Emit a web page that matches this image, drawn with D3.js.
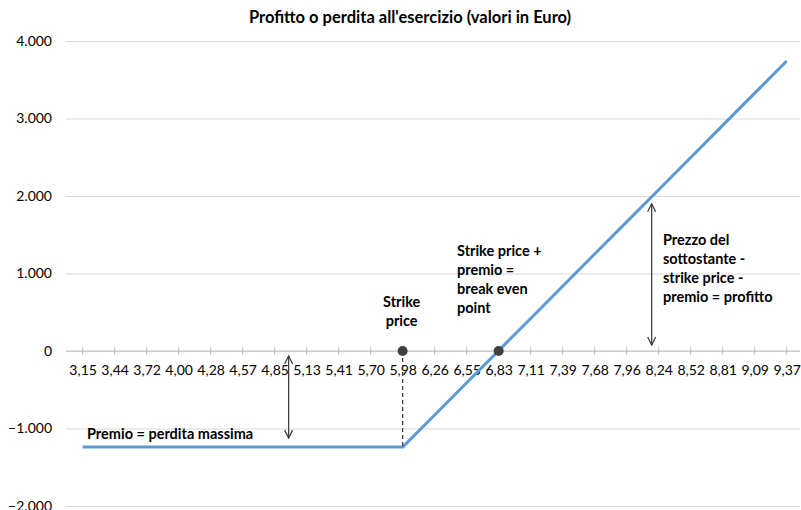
<!DOCTYPE html>
<html><head><meta charset="utf-8">
<script src="https://cdn.jsdelivr.net/npm/d3@7"></script>
<style>
body{margin:0;background:#fff;}
svg{display:block;font-family:Lato,"Open Sans",sans-serif;}
</style></head>
<body><svg id="chart" width="801" height="510"></svg>
<script>
// ---- data ----
const categories = ["3,15","3,44","3,72","4,00","4,28","4,57","4,85","5,13","5,41","5,70","5,98","6,26","6,55","6,83","7,11","7,39","7,68","7,96","8,24","8,52","8,81","9,09","9,37"];
const profit = [-1240,-1240,-1240,-1240,-1240,-1240,-1240,-1240,-1240,-1240,-1240,-825,-410,5,420,836,1251,1666,2081,2496,2912,3327,3742];
const yTicks = [-2000,-1000,0,1000,2000,3000,4000];
const title = "Profitto o perdita all'esercizio (valori in Euro)";
const strikeLabel = "5,98";
const breakEvenLabel = "6,83";
const premiumArrowAt = "5,13";
const profitArrowAt = "8,24";
const premium = 1240;

const svg = d3.select("#chart");
const x = d3.scalePoint().domain(categories).range([82.6, 786.7]);
const y = d3.scaleLinear().domain([-2000, 4000]).range([506, 41]);
const loc = d3.formatLocale({decimal: ",", thousands: ".", grouping: [3], currency: ["€",""]});
const fmt = loc.format(",d");

// title
svg.append("text").attr("x", 410).attr("y", 23).attr("text-anchor", "middle")
  .attr("font-size", 16.5).attr("font-weight", "bold").attr("fill", "#000").text(title);

// gridlines
const yAxis = d3.axisLeft(y).tickValues(yTicks).tickSize(-(800 - 66)).tickFormat(fmt).tickPadding(14);
const gy = svg.append("g").attr("transform", "translate(66,0)").call(yAxis);
gy.select(".domain").remove();
gy.selectAll(".tick line").attr("stroke", "#d9d9d9").attr("stroke-width", 1);
gy.selectAll(".tick text").attr("font-size", 14).attr("fill", "#000").attr("font-family", "Lato,sans-serif");

// x axis at zero
const gx = svg.append("g").attr("transform", `translate(0,${y(0)})`);
gx.append("line").attr("x1", 66).attr("x2", 800).attr("stroke", "#bfbfbf").attr("stroke-width", 1);
const xAxis = d3.axisBottom(x).tickSize(0).tickPadding(14);
const gxa = gx.append("g").call(xAxis);
gxa.select(".domain").remove();
gxa.selectAll(".tick text").attr("font-size", 14).attr("fill", "#000").attr("font-family", "Lato,sans-serif");
gx.selectAll(".xt").data(categories).enter().append("line")
  .attr("x1", d => x(d)).attr("x2", d => x(d)).attr("y1", -4).attr("y2", 4)
  .attr("stroke", "#bfbfbf").attr("stroke-width", 1);

// line
const line = d3.line().x((d, i) => x(categories[i])).y(d => y(d));
svg.append("path").datum(profit).attr("d", line).attr("fill", "none")
  .attr("stroke", "#5b9bd5").attr("stroke-width", 3).attr("stroke-linejoin", "round");

// arrow marker
const defs = svg.append("defs");
defs.append("marker").attr("id", "ah").attr("viewBox", "0 0 10 10").attr("refX", 9).attr("refY", 5)
  .attr("markerWidth", 10).attr("markerHeight", 10).attr("markerUnits", "userSpaceOnUse").attr("orient", "auto-start-reverse")
  .append("path").attr("d", "M1,1 L9,5 L1,9").attr("fill", "none").attr("stroke", "#404040").attr("stroke-width", 1.3);

// dashed strike line
svg.append("line").attr("x1", x(strikeLabel)).attr("x2", x(strikeLabel))
  .attr("y1", y(0)).attr("y2", y(-premium)).attr("stroke", "#404040").attr("stroke-width", 1.3)
  .attr("stroke-dasharray", "4,3");

// premium arrow
const pax = x(premiumArrowAt) - 18;
svg.append("line").attr("x1", pax).attr("x2", pax).attr("y1", y(0) + 5).attr("y2", y(-premium) - 9)
  .attr("stroke", "#404040").attr("stroke-width", 1.3)
  .attr("marker-start", "url(#ah)").attr("marker-end", "url(#ah)");

// profit arrow
const prx = x(profitArrowAt) - 7;
svg.append("line").attr("x1", prx).attr("x2", prx).attr("y1", y(0) - 6).attr("y2", y(2081) + 14)
  .attr("stroke", "#404040").attr("stroke-width", 1.3)
  .attr("marker-start", "url(#ah)").attr("marker-end", "url(#ah)");

// dots
svg.selectAll(".dot").data([strikeLabel, breakEvenLabel]).enter().append("circle")
  .attr("cx", d => x(d)).attr("cy", y(0)).attr("r", 5).attr("fill", "#404040");

// annotations
function multi(xp, y0, lines, anchor) {
  const t = svg.append("text").attr("font-size", 14.5).attr("font-weight", "bold").attr("fill", "#000")
    .attr("text-anchor", anchor || "start");
  lines.forEach((l, i) => t.append("tspan").attr("x", xp).attr("y", y0 + i * 19).text(l));
}
multi(x(strikeLabel) - 1, 307, ["Strike", "price"], "middle");
multi(457, 256, ["Strike price +", "premio =", "break even", "point"]);
multi(663, 245, ["Prezzo del", "sottostante -", "strike price -", "premio = profitto"]);
multi(87, 439, ["Premio = perdita massima"]);
</script></body></html>
